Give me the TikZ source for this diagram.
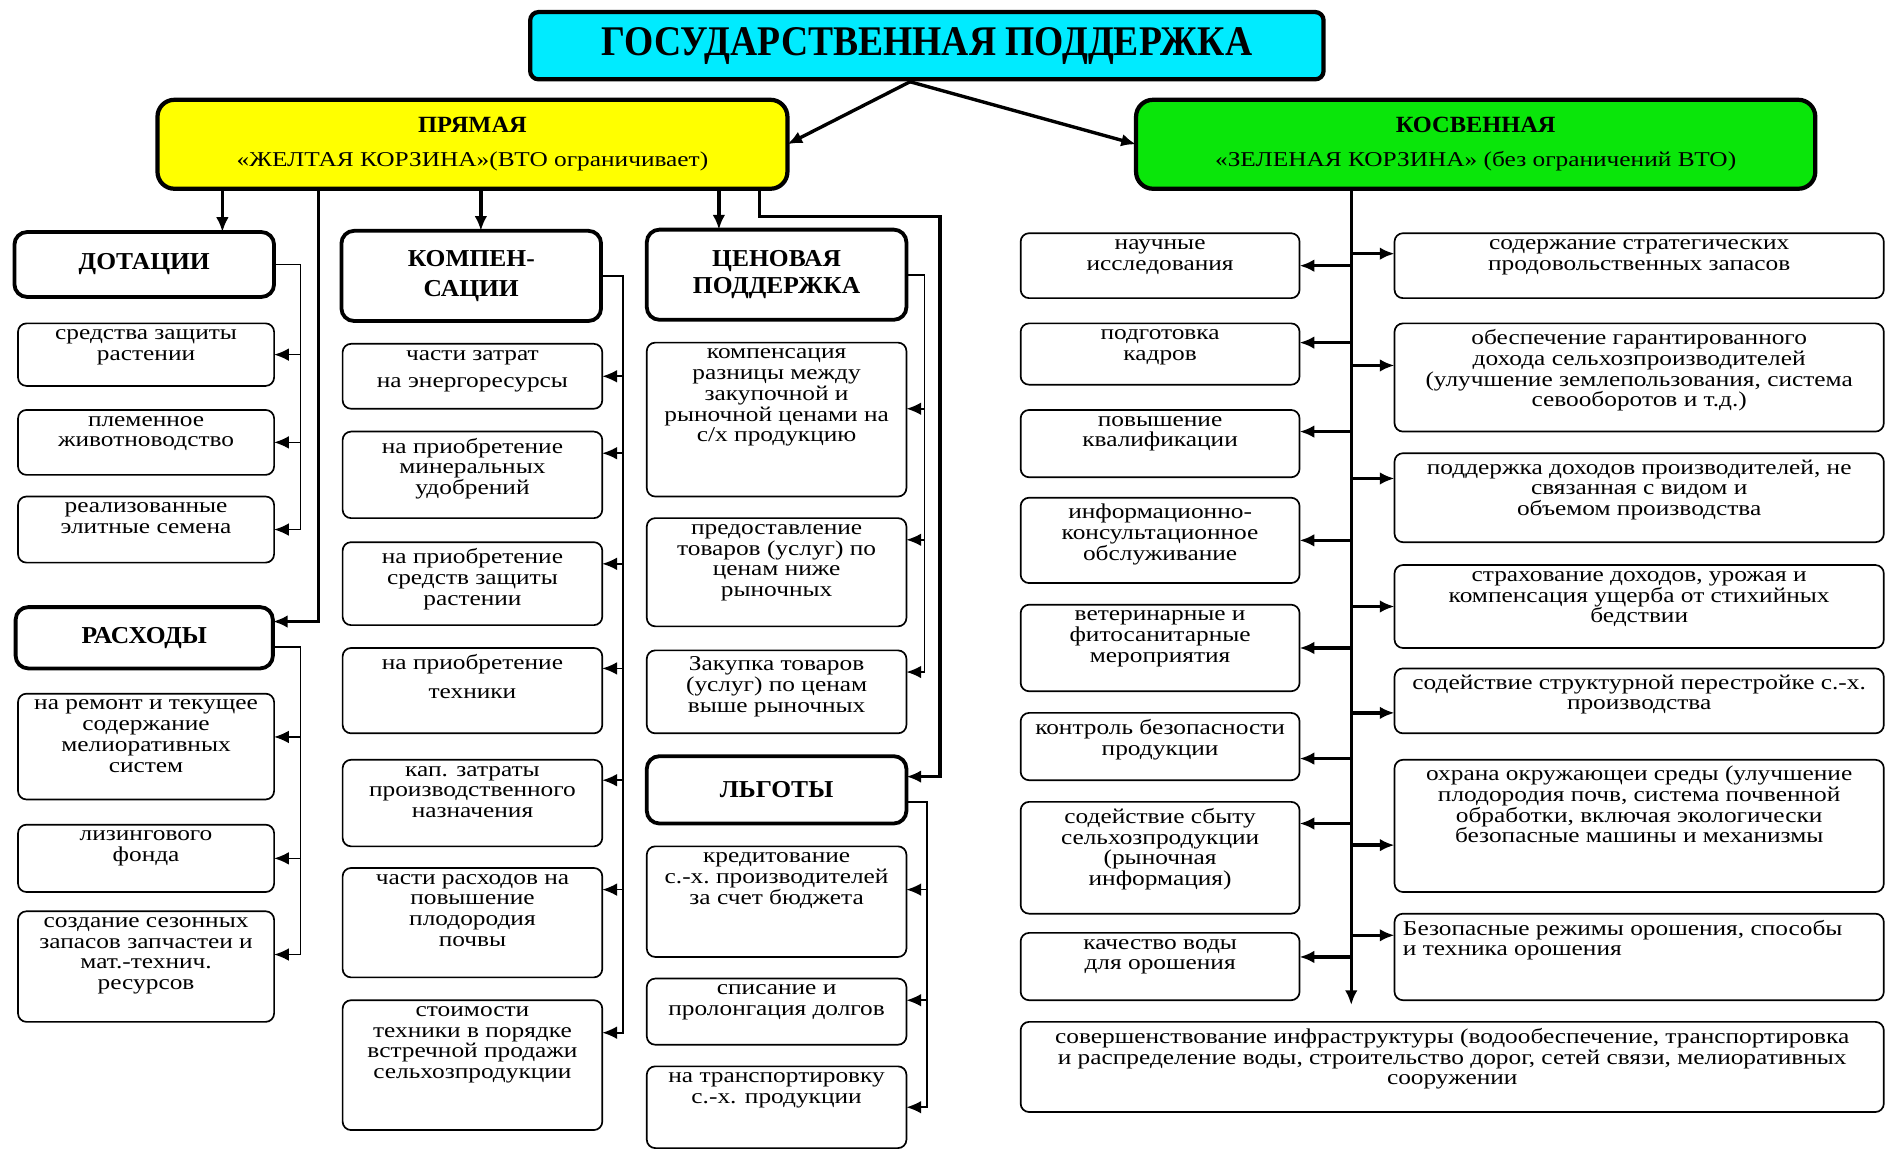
\documentclass[tikz,border=0pt]{standalone}
\usepackage{fontspec}
\setmainfont{Liberation Serif}[FakeStretch=1.2]
\newfontfamily\hdfont{Liberation Serif}[FakeStretch=1.05]
\newfontfamily\ttlfont{Liberation Serif}[FakeStretch=0.89]
\usepackage{tikz}
\usetikzlibrary{arrows.meta}
\newlength\gu
\setlength\gu{0.02cm}
\definecolor{ttlcyan}{RGB}{0,235,255}
\definecolor{yelbox}{RGB}{255,255,0}
\definecolor{grnbox}{RGB}{10,230,10}

\begin{document}
\begin{tikzpicture}[x=0.02cm,y=-0.02cm,
    mp/.style n args={3}{inner xsep=1pt,inner ysep=3pt,outer sep=0pt,
      execute at begin node={\begin{minipage}[c][\dimexpr#2\gu-6pt\relax][#3]{\dimexpr#1\gu-2pt\relax}\centering},
      execute at end node={\end{minipage}}},
    cell/.style 2 args={mp={#1}{#2}{t},draw=black,line width=0.8pt,rounded corners=4pt,
      font=\fontsize{10}{9.8}\selectfont},
    head/.style 2 args={mp={#1}{#2}{c},draw=black,line width=1.8pt,rounded corners=6pt,
      font=\hdfont\bfseries\fontsize{11.5}{12.5}\selectfont},
    basket/.style n args={3}{mp={#1}{#2}{c},draw=black,line width=2pt,rounded corners=8pt,
      fill=#3,font=\fontsize{10}{12}\selectfont},
    ln/.style={line width=0.8pt},
    thk/.style={line width=1.6pt},
    arr/.style={-{Latex[length=7pt,width=6pt]}},
    back/.style={{Latex[length=7pt,width=6pt]}-}]
  \useasboundingbox (0,0) rectangle (1568,958);

  \node[basket={660}{56}{ttlcyan},rounded corners=4pt,
    font=\ttlfont\bfseries\fontsize{20}{22}\selectfont] (ttl) at (771,38) {ГОСУДАРСТВЕННАЯ ПОДДЕРЖКА};
  \node[basket={524}{74}{yelbox}] (yel) at (393,120)
    {{\hdfont\bfseries\fontsize{11}{12}\selectfont ПРЯМАЯ}\\[4pt]«ЖЕЛТАЯ КОРЗИНА»(ВТО ограничивает)};
  \node[basket={565}{74}{grnbox}] (grn) at (1227.5,120)
    {{\hdfont\bfseries\fontsize{11}{12}\selectfont КОСВЕННАЯ}\\[4pt]«ЗЕЛЕНАЯ КОРЗИНА» (без ограничений ВТО)};

  \node[head={216}{54}] (dot) at (120,220) {ДОТАЦИИ};
  \node[head={216}{75}] (kmp) at (392,229.5) {КОМПЕН-\\[1.5pt]САЦИИ};
  \node[head={216}{75}] (cen) at (646,228.5) {ЦЕНОВАЯ\\ПОДДЕРЖКА};
  \node[head={214}{51}] (rsh) at (120,530.5) {РАСХОДЫ};
  \node[head={216}{56}] (lgt) at (646,657) {ЛЬГОТЫ};

  \node[cell={213}{52}] (d1) at (121.5,295) {средства защиты\\растении};
  \node[cell={213}{54}] (d2) at (121.5,368) {племенное\\животноводство};
  \node[cell={213}{55}] (d3) at (121.5,440.5) {реализованные\\элитные семена};
  \node[cell={213}{88}] (r1) at (121.5,621) {на ремонт и текущее\\содержание\\мелиоративных\\систем};
  \node[cell={213}{56}] (r2) at (121.5,714) {лизингового\\фонда};
  \node[cell={213}{92}] (r3) at (121.5,804) {создание сезонных\\запасов запчастеи и\\мат.-технич.\\ресурсов};

  \node[cell={216}{54}] (k1) at (393,313) {части затрат\\[3pt]на энергоресурсы};
  \node[cell={216}{72}] (k2) at (393,395) {на приобретение\\минеральных\\удобрений};
  \node[cell={216}{69}] (k3) at (393,485.5) {на приобретение\\средств защиты\\растении};
  \node[cell={216}{71}] (k4) at (393,574.5) {на приобретение\\[4pt]техники};
  \node[cell={216}{72}] (k5) at (393,668) {кап. затраты\\производственного\\назначения};
  \node[cell={216}{91}] (k6) at (393,767.5) {части расходов на\\повышение\\плодородия\\почвы};
  \node[cell={216}{108}] (k7) at (393,886) {стоимости\\техники в порядке\\встречной продажи\\сельхозпродукции};

  \node[cell={216}{128}] (c1) at (646,349) {компенсация\\разницы между\\закупочной и\\рыночной~ценами~на\\с/х продукцию};
  \node[cell={216}{90}] (c2) at (646,476) {предоставление\\товаров (услуг) по\\ценам ниже\\рыночных};
  \node[cell={216}{69}] (c3) at (646,575.5) {Закупка товаров\\(услуг) по ценам\\выше рыночных};
  \node[cell={216}{92}] (l1) at (646,750) {кредитование\\с.-х.~производителей\\за счет бюджета};
  \node[cell={216}{55}] (l2) at (646,841.5) {списание и\\пролонгация~долгов};
  \node[cell={216}{68}] (l3) at (646,921) {на транспортировку\\с.-х. продукции};

  \node[cell={232}{54}] (g1) at (965,221) {научные\\исследования};
  \node[cell={232}{51}] (g2) at (965,294.5) {подготовка\\кадров};
  \node[cell={232}{56}] (g3) at (965,369) {повышение\\квалификации};
  \node[cell={232}{71}] (g4) at (965,449.5) {информационно-\\консультационное\\обслуживание};
  \node[cell={232}{72}] (g5) at (965,539) {ветеринарные и\\фитосанитарные\\мероприятия};
  \node[cell={232}{56}] (g6) at (965,621) {контроль~безопасности\\продукции};
  \node[cell={232}{93}] (g7) at (965,713.5) {содействие сбыту\\сельхозпродукции\\(рыночная\\информация)};
  \node[cell={232}{56}] (g8) at (965,804) {качество воды\\для орошения};

  \node[cell={407}{54}] (h1) at (1363.5,221) {содержание стратегических\\продовольственных запасов};
  \node[cell={407}{90}] (h2) at (1363.5,314) {обеспечение гарантированного\\дохода сельхозпроизводителей\\(улучшение~землепользования,~система\\севооборотов и т.д.)};
  \node[cell={407}{74}] (h3) at (1363.5,414) {поддержка~доходов~производителей,~не\\связанная с видом и\\объемом производства};
  \node[cell={407}{69}] (h4) at (1363.5,504.5) {страхование доходов, урожая и\\компенсация~ущерба~от~стихийных\\бедствии};
  \node[cell={407}{54}] (h5) at (1363.5,583) {содействие~структурной~перестройке~с.-х.\\производства};
  \node[cell={407}{110}] (h6) at (1363.5,687) {охрана~окружающеи~среды~(улучшение\\плодородия~почв,~система~почвенной\\обработки,~включая~экологически\\безопасные~машины~и~механизмы};
  \node[cell={407}{72}] (h7) at (1363.5,796) {\raggedright\ Безопасные~режимы~орошения,~способы\\\ и техника орошения\par};
  \node[cell={718}{75}] (inf) at (1208,887.5) {совершенствование~инфраструктуры~(водообеспечение,~транспортировка\\и~распределение~воды,~строительство~дорог,~сетей~связи,~мелиоративных\\сооружении};

  \coordinate (split) at (757,68);
  \draw[thk,arr] (split) -- (yel.east);
  \draw[thk,arr] (split) -- (grn.west);

  \coordinate (xa) at (185,0);
  \coordinate (xb) at (400,0);
  \coordinate (xc) at (598,0);
  \coordinate (xr) at (265,0);
  \coordinate (xl) at (632,0);
  \coordinate (bend) at (782,180);
  \draw[thk,arr] (yel.south -| xa) -- (dot.north -| xa);
  \draw[thk,arr] (yel.south -| xb) -- (kmp.north -| xb);
  \draw[thk,arr] (yel.south -| xc) -- (cen.north -| xc);
  \draw[thk,arr] (yel.south -| xr) |- ([yshift=0.27cm]rsh.east);
  \draw[thk,arr] (yel.south -| xl) |- (bend) |- ([yshift=0.22cm]lgt.east);

  \draw[ln,back] (d3.east) -- +(22,0) |- (dot.east);
  \draw[ln,back] (d1.east) -- +(22,0);
  \draw[ln,back] (d2.east) -- +(22,0);
  \draw[ln,back] ([yshift=0.2cm]r3.east) -- +(22,0) |- ([yshift=-0.15cm]rsh.east);
  \draw[ln,back] ([yshift=0.16cm]r1.east) -- +(22,0);
  \draw[ln,back] (r2.east) -- +(22,0);

  \draw[ln,back] ([yshift=0.54cm]k7.east) -- +(17,0) |- (kmp.east);
  \draw[ln,back] (k1.east) -- +(17,0);
  \draw[ln,back] ([yshift=0.36cm]k2.east) -- +(17,0);
  \draw[ln,back] ([yshift=0.33cm]k3.east) -- +(17,0);
  \draw[ln,back] ([yshift=0.37cm]k4.east) -- +(17,0);
  \draw[ln,back] ([yshift=0.38cm]k5.east) -- +(17,0);
  \draw[ln,back] ([yshift=0.55cm]k6.east) -- +(17,0);

  \draw[ln,back] ([yshift=0.33cm]c3.east) -- +(15,0) |- (cen.east);
  \draw[ln,back] ([yshift=0.18cm]c1.east) -- +(15,0);
  \draw[ln,back] ([yshift=0.54cm]c2.east) -- +(15,0);
  \draw[ln,back] (l3.east) -- +(17,0) |- ([yshift=-0.2cm]lgt.east);
  \draw[ln,back] ([yshift=0.2cm]l1.east) -- +(17,0);
  \draw[ln,back] ([yshift=0.19cm]l2.east) -- +(17,0);

  \coordinate (tend) at (1124,836);
  \draw[thk,arr] (grn.south -| tend) -- (tend);
  \draw[thk,back] (g1.east) -- +(43,0);
  \draw[thk,back] ([yshift=0.19cm]g2.east) -- +(43,0);
  \draw[thk,back] ([yshift=0.2cm]g3.east) -- +(43,0);
  \draw[thk,back] (g4.east) -- +(43,0);
  \draw[thk,back] (g5.east) -- +(43,0);
  \draw[thk,back] ([yshift=-0.2cm]g6.east) -- +(43,0);
  \draw[thk,back] ([yshift=0.57cm]g7.east) -- +(43,0);
  \draw[thk,back] ([yshift=0.16cm]g8.east) -- +(43,0);
  \draw[thk,back] ([yshift=0.2cm]h1.west) -- +(-36,0);
  \draw[thk,back] ([yshift=0.2cm]h2.west) -- +(-36,0);
  \draw[thk,back] ([yshift=0.32cm]h3.west) -- +(-36,0);
  \draw[thk,back] (h4.west) -- +(-36,0);
  \draw[thk,back] ([yshift=-0.2cm]h5.west) -- +(-36,0);
  \draw[thk,back] ([yshift=-0.32cm]h6.west) -- +(-36,0);
  \draw[thk,back] ([yshift=0.36cm]h7.west) -- +(-36,0);
\end{tikzpicture}
\end{document}
